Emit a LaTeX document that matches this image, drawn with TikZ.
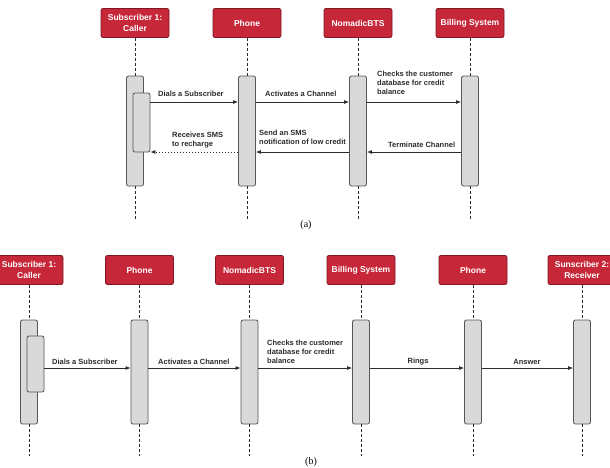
\documentclass[tikz,border=0pt]{standalone}
\usepackage{fontspec}
\setmainfont{Liberation Sans}
\newfontfamily\capfont{Liberation Serif}
\usetikzlibrary{arrows.meta}

\definecolor{hdrred}{HTML}{C62839}
\definecolor{hdredge}{HTML}{7E1722}
\definecolor{barfill}{HTML}{D9D9D9}
\definecolor{baredge}{HTML}{555555}
\definecolor{ink}{HTML}{2B2B2B}

\tikzset{
  actor/.style={draw=hdredge, line width=0.8pt, fill=hdrred, rounded corners=2pt,
    minimum width=68pt, minimum height=29pt, inner sep=1pt, align=center,
    text=white, font=\bfseries\fontsize{8.5}{10.4}\selectfont},
  actbar/.style={draw=baredge, line width=0.8pt, fill=barfill, rounded corners=2pt,
    minimum width=17pt, inner sep=0pt},
  lifeline/.style={draw=ink, line width=1pt, dash pattern=on 3pt off 2pt},
  msg/.style={draw=ink, line width=0.8pt, -{Latex[length=5pt,width=4pt]}},
  reply/.style={msg, dash pattern=on 1.5pt off 1.5pt},
  msglabel/.style={inner sep=0pt, align=left, text=ink,
    font=\bfseries\fontsize{7.5}{9}\selectfont},
  caption/.style={inner sep=0pt, font=\capfont\fontsize{10}{12}\selectfont}
}

\begin{document}
\begin{tikzpicture}[x=1pt, y=-1pt]
\useasboundingbox (0,0) rectangle (610,467);

%% ---------- (a) ----------
\node[actor] (aCaller) at (135,23) {Subscriber 1:\\Caller};
\node[actor] (aPhone)  at (247,23) {Phone};
\node[actor] (aBTS)    at (358,23) {NomadicBTS};
\node[actor] (aBill)   at (470,23) {Billing System};

\node[actbar, minimum height=110pt] (aCallerBar) at (135,131) {};
\node[actbar, minimum height=59pt]  (aCallerIn)  at (141.5,122.5) {};
\node[actbar, minimum height=110pt] (aPhoneBar)  at (247,131) {};
\node[actbar, minimum height=110pt] (aBTSBar)    at (358,131) {};
\node[actbar, minimum height=110pt] (aBillBar)   at (470,131) {};

\foreach \n/\x in {Caller/135, Phone/247, BTS/358, Bill/470}{
  \coordinate (aEnd\n) at (\x,220);
  \draw[lifeline] (a\n.south) -- (a\n Bar.north);
  \draw[lifeline] (a\n Bar.south) -- (aEnd\n);
}

\coordinate (aRowA) at (0,102);
\coordinate (aRowB) at (0,152);

\draw[msg] (aCallerIn.east |- aRowA) -- (aPhoneBar.west |- aRowA);
\draw[msg] (aPhoneBar.east |- aRowA) -- (aBTSBar.west |- aRowA);
\draw[msg] (aBTSBar.east |- aRowA) -- (aBillBar.west |- aRowA);
\draw[msg] (aBillBar.west |- aRowB) -- (aBTSBar.east |- aRowB);
\draw[msg] (aBTSBar.west |- aRowB) -- (aPhoneBar.east |- aRowB);
\draw[reply] (aPhoneBar.west |- aRowB) -- (aCallerIn.east |- aRowB);

\node[msglabel, anchor=west] (aL1) at (158,94) {Dials a Subscriber};
\node[msglabel, anchor=west] (aL2) at (265,94) {Activates a Channel};
\node[msglabel, anchor=north west] (aL3) at (377,71) {Checks the customer\\database for credit\\balance};
\node[msglabel, anchor=west] (aL4) at (388,145) {Terminate Channel};
\node[msglabel, anchor=west] (aL5) at (259,137.8) {Send an SMS\\notification of low credit};
\node[msglabel, anchor=west] (aL6) at (172,140.5) {Receives SMS\\to recharge};

\node[caption] (capA) at (306,225) {(a)};

%% ---------- (b) ----------
\node[actor] (bCaller) at (29,270)    {Subscriber 1:\\Caller};
\node[actor] (bPhone)  at (139.5,270) {Phone};
\node[actor] (bBTS)    at (249.5,270) {NomadicBTS};
\node[actor] (bBill)   at (361,270)   {Billing System};
\node[actor] (bPhoneB) at (473,270)   {Phone};
\node[actor] (bRecv)   at (582,270)   {Sunscriber 2:\\Receiver};

\node[actbar, minimum height=104pt] (bCallerBar) at (29,372) {};
\node[actbar, minimum height=56pt]  (bCallerIn)  at (35.5,364) {};
\node[actbar, minimum height=104pt] (bPhoneBar)  at (139.5,372) {};
\node[actbar, minimum height=104pt] (bBTSBar)    at (249.5,372) {};
\node[actbar, minimum height=104pt] (bBillBar)   at (361,372) {};
\node[actbar, minimum height=104pt] (bPhoneBBar) at (473,372) {};
\node[actbar, minimum height=104pt] (bRecvBar)   at (582,372) {};

\foreach \n/\x in {Caller/29, Phone/139.5, BTS/249.5, Bill/361, PhoneB/473, Recv/582}{
  \coordinate (bEnd\n) at (\x,456);
  \draw[lifeline] (b\n.south) -- (b\n Bar.north);
  \draw[lifeline] (b\n Bar.south) -- (bEnd\n);
}

\coordinate (bRow) at (0,368);

\draw[msg] (bCallerIn.east |- bRow) -- (bPhoneBar.west |- bRow);
\draw[msg] (bPhoneBar.east |- bRow) -- (bBTSBar.west |- bRow);
\draw[msg] (bBTSBar.east |- bRow) -- (bBillBar.west |- bRow);
\draw[msg] (bBillBar.east |- bRow) -- (bPhoneBBar.west |- bRow);
\draw[msg] (bPhoneBBar.east |- bRow) -- (bRecvBar.west |- bRow);

\node[msglabel, anchor=west] (bL1) at (52,362) {Dials a Subscriber};
\node[msglabel, anchor=west] (bL2) at (158,362) {Activates a Channel};
\node[msglabel, anchor=north west] (bL3) at (267,339.5) {Checks the customer\\database for credit\\balance};
\node[msglabel] (bL4) at (418,362) {Rings};
\node[msglabel] (bL5) at (527,362) {Answer};

\node[caption] (capB) at (311,462) {(b)};
\end{tikzpicture}
\end{document}
